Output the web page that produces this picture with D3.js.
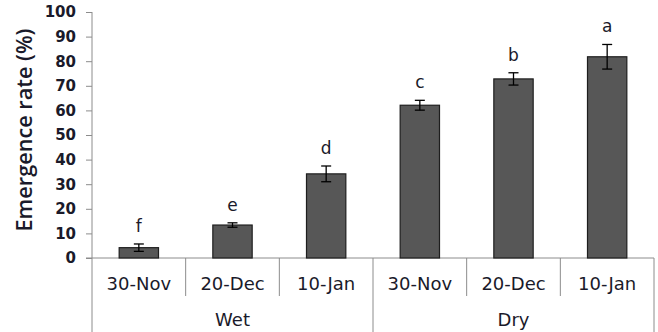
<!DOCTYPE html>
<html>
<head>
  <script src="https://cdn.jsdelivr.net/npm/d3@7"></script>
  <style>
    body { margin: 0; background: #fff; }
    text { font-family: "DejaVu Sans", Verdana, sans-serif; fill: #1a1a2a; }
  </style>
</head>
<body>
  <svg width="658" height="332" id="mainsvg"></svg>
  <script>
    // data
    const groups = ['Wet', 'Dry'];
    const dates = ['30-Nov', '20-Dec', '10-Jan'];
    const values = [4.2, 13.4, 34.2, 62.1, 72.8, 81.8];
    const errors = [1.5, 0.9, 3.2, 2.0, 2.5, 5.0];
    const letters = ['f', 'e', 'd', 'c', 'b', 'a'];
    const yTicks = [0, 10, 20, 30, 40, 50, 60, 70, 80, 90, 100];

    const svg = d3.select('svg');
    const margin = {top: 12, left: 92, right: 4};
    const x0 = 92, x1 = 654, yBase = 258;

    const rows = [];
    groups.forEach((g, gi) => dates.forEach((d, di) => rows.push({
      key: g + '|' + d, group: g, date: d,
      value: values[gi * 3 + di], err: errors[gi * 3 + di], letter: letters[gi * 3 + di]
    })));

    const x = d3.scaleBand().domain(rows.map(r => r.key)).range([x0, x1]).paddingInner(0).paddingOuter(0);
    const y = d3.scaleLinear().domain([0, 100]).range([yBase, margin.top]);
    const barW = x.bandwidth() * 0.42;
    const axisColor = '#8c8c8c';

    // y axis
    const yAxis = svg.append('g')
      .attr('transform', `translate(${x0},0)`)
      .call(d3.axisLeft(y).tickValues(yTicks).tickSize(6).tickPadding(10));
    yAxis.select('.domain').remove();
    yAxis.selectAll('.tick line').attr('stroke', axisColor);
    yAxis.selectAll('.tick text')
      .style('font-size', '15px').style('font-weight', 'bold').attr('fill', '#1a1a2a');

    // axis lines
    svg.append('line').attr('x1', x0).attr('x2', x0).attr('y1', y(100)).attr('y2', 332)
      .attr('stroke', axisColor);
    svg.append('line').attr('x1', x0 - 6).attr('x2', x1).attr('y1', yBase).attr('y2', yBase)
      .attr('stroke', axisColor);

    // separators between categories
    rows.forEach((r, i) => {
      if (i === 0) return;
      const sx = x(r.key);
      svg.append('line').attr('x1', sx).attr('x2', sx).attr('y1', yBase)
        .attr('y2', i % 3 === 0 ? 332 : 296).attr('stroke', axisColor);
    });
    svg.append('line').attr('x1', x1).attr('x2', x1).attr('y1', yBase).attr('y2', 332)
      .attr('stroke', axisColor);

    // bars
    svg.append('g').selectAll('rect').data(rows).join('rect')
      .attr('x', d => x(d.key) + (x.bandwidth() - barW) / 2)
      .attr('width', barW)
      .attr('y', d => y(d.value))
      .attr('height', d => yBase - y(d.value))
      .attr('fill', '#575757')
      .attr('stroke', '#1e1e1e')
      .attr('stroke-width', 1.2);

    // error bars
    const eb = svg.append('g').selectAll('g').data(rows).join('g')
      .attr('transform', d => `translate(${x(d.key) + x.bandwidth() / 2},0)`);
    eb.append('line').attr('y1', d => y(d.value + d.err)).attr('y2', d => y(d.value - d.err))
      .attr('stroke', '#000').attr('stroke-width', 1.3);
    eb.append('line').attr('x1', -5).attr('x2', 5)
      .attr('y1', d => y(d.value + d.err)).attr('y2', d => y(d.value + d.err))
      .attr('stroke', '#000').attr('stroke-width', 1.3);
    eb.append('line').attr('x1', -5).attr('x2', 5)
      .attr('y1', d => y(d.value - d.err)).attr('y2', d => y(d.value - d.err))
      .attr('stroke', '#000').attr('stroke-width', 1.3);

    // significance letters
    eb.append('text').attr('text-anchor', 'middle')
      .attr('y', d => y(d.value + d.err) - 12)
      .style('font-size', '17px')
      .text(d => d.letter);

    // category labels
    svg.append('g').selectAll('text').data(rows).join('text')
      .attr('x', d => x(d.key) + x.bandwidth() / 2)
      .attr('y', 290)
      .attr('text-anchor', 'middle')
      .style('font-size', '18px')
      .text(d => d.date);

    // group labels
    svg.append('g').selectAll('text').data(groups).join('text')
      .attr('x', g => {
        const keys = rows.filter(r => r.group === g).map(r => r.key);
        return (x(keys[0]) + x(keys[keys.length - 1]) + x.bandwidth()) / 2;
      })
      .attr('y', 326)
      .attr('text-anchor', 'middle')
      .style('font-size', '18px')
      .text(g => g);

    // y title
    svg.append('text')
      .attr('transform', `translate(32,${(y(100) + yBase) / 2 - 5}) rotate(-90)`)
      .attr('text-anchor', 'middle')
      .attr('textLength', 203)
      .attr('lengthAdjust', 'spacingAndGlyphs')
      .style('font-family', '"Open Sans", sans-serif')
      .style('font-weight', '600')
      .style('font-size', '21px')
      .text('Emergence rate (%)');
  </script>
</body>
</html>
